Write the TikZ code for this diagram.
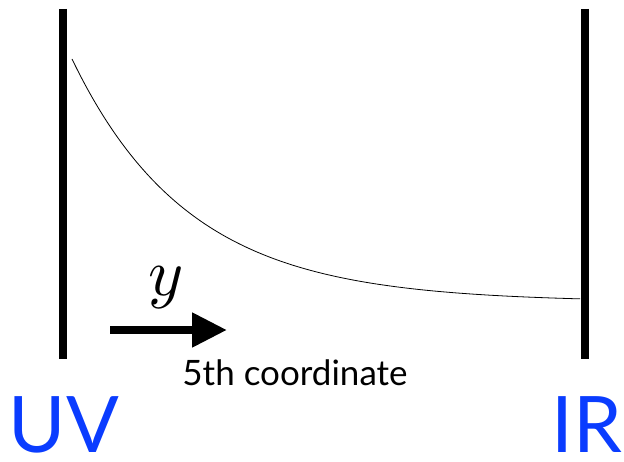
\documentclass[tikz,border=0pt]{standalone}
\usepackage{fontspec}
\setmainfont{Lato}
\usetikzlibrary{arrows.meta}
\definecolor{scaleblue}{RGB}{10,60,255}

\begin{document}
\begin{tikzpicture}[x=1pt,y=-1pt]
\tikzset{
  brane/.style={draw=black,line width=8pt},
  profile/.style={draw=black,line width=0.8pt},
  flowarrow/.style={draw=black,line width=8pt,-{Triangle[length=35pt,width=33pt]}},
  scalelabel/.style={text=scaleblue,font=\fontsize{78}{80}\selectfont,inner sep=0pt,anchor=base},
  axislabel/.style={font=\fontsize{35}{38}\selectfont,inner sep=0pt,anchor=base}
}
\useasboundingbox (0,0) rectangle (624,462);
\coordinate (uv_top) at (63,9);
\coordinate (uv_bot) at (63,359);
\coordinate (ir_top) at (585,9);
\coordinate (ir_bot) at (585,359);
\coordinate (arr_start) at (110,330);
\coordinate (arr_end) at (227,330);
\node[scalelabel] (n_UV) at (64,452) {UV};
\node[scalelabel] (n_IR) at (587,452) {IR};
\node[axislabel] (n_coord) at (295,385) {5th coordinate};
\node[inner sep=0pt,anchor=base] (n_y) at (166,296) {\scalebox{6.7}{$y$}};
\draw[brane] (uv_top) -- (uv_bot);
\draw[brane] (ir_top) -- (ir_bot);
\draw[profile] plot[domain=72:580,samples=120,smooth] (\x,{302-243*exp(-(\x-72)/117)});
\draw[flowarrow] (arr_start) -- (arr_end);
\end{tikzpicture}
\end{document}
